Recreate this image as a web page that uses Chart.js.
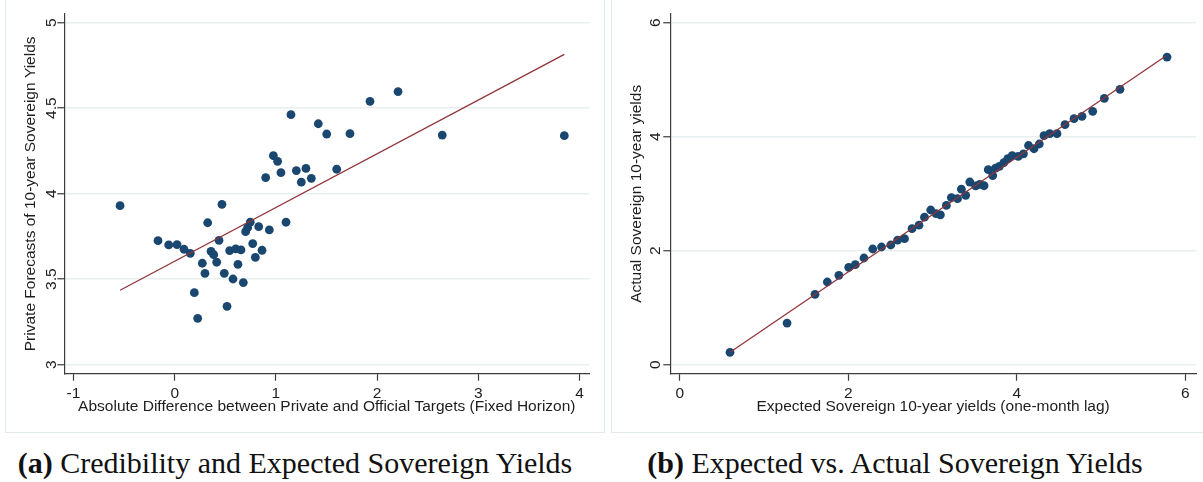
<!DOCTYPE html>
<html>
<head>
<meta charset="utf-8">
<script src="https://cdn.jsdelivr.net/npm/chart.js@4.4.0/dist/chart.umd.min.js"></script>
<style>
  html, body { margin: 0; padding: 0; background: #fff; }
  body { width: 1203px; height: 482px; position: relative; overflow: hidden; }
  .panel { position: absolute; top: -6px; height: 439px; border: 1px solid #e3eaec; box-sizing: border-box; background: #fff; }
  #panelA { left: 5px; width: 600px; }
  #panelB { left: 611px; width: 600px; }
  canvas { position: absolute; top: 0; }
  #chartA { left: 0; }
  #chartB { left: 606px; }
  .caption { position: absolute; top: 447px; font-family: "Liberation Serif", "Times New Roman", serif;
             font-size: 30px; line-height: 32px; color: #111; white-space: nowrap; transform: translateX(-50%); }
  .caption b { font-weight: bold; }
</style>
</head>
<body>
<div class="panel" id="panelA"></div>
<div class="panel" id="panelB"></div>
<canvas id="chartA" width="600" height="432"></canvas>
<canvas id="chartB" width="597" height="432"></canvas>
<div class="caption" style="left:295px"><b>(a)</b> Credibility and Expected Sovereign Yields</div>
<div class="caption" style="left:895px"><b>(b)</b> Expected vs. Actual Sovereign Yields</div>

<script>
// Panel (a): credibility gap vs. private 10-year yield forecasts
const credGap = [-0.54, -0.165, -0.059, 0.023, 0.092, 0.154, 0.194, 0.227, 0.273, 0.299,
                 0.326, 0.359, 0.385, 0.415, 0.438, 0.467, 0.490, 0.517, 0.543, 0.576,
                 0.603, 0.625, 0.655, 0.678, 0.701, 0.721, 0.747, 0.771, 0.797, 0.830,
                 0.863, 0.899, 0.935, 0.975, 1.017, 1.050, 1.100, 1.149, 1.202, 1.251,
                 1.297, 1.350, 1.419, 1.502, 1.601, 1.732, 1.930, 2.207, 2.644, 3.850];
const privForecast = [3.930, 3.725, 3.700, 3.702, 3.675, 3.651, 3.421, 3.271, 3.593, 3.534,
                      3.830, 3.663, 3.643, 3.599, 3.727, 3.938, 3.534, 3.341, 3.667, 3.501,
                      3.677, 3.587, 3.671, 3.480, 3.778, 3.801, 3.834, 3.708, 3.628, 3.807,
                      3.669, 4.094, 3.788, 4.222, 4.189, 4.123, 3.833, 4.462, 4.135, 4.067,
                      4.148, 4.090, 4.409, 4.349, 4.143, 4.351, 4.540, 4.597, 4.343, 4.339];
const fitAX = [-0.54, 3.85];
const fitAY = [3.435, 4.815];
const ticksAX = [-1, 0, 1, 2, 3, 4];
const ticksAY = [3, 3.5, 4, 4.5, 5];

// Panel (b): expected (one-month lag) vs. actual 10-year yields
const expectedYield = [0.597, 1.274, 1.606, 1.752, 1.889, 2.006, 2.084, 2.187, 2.291, 2.395,
                       2.505, 2.586, 2.668, 2.757, 2.840, 2.905, 2.979, 3.041, 3.094, 3.165,
                       3.224, 3.297, 3.343, 3.394, 3.443, 3.512, 3.561, 3.612, 3.662, 3.715,
                       3.748, 3.795, 3.847, 3.894, 3.946, 4.018, 4.080, 4.140, 4.205, 4.268,
                       4.324, 4.392, 4.478, 4.573, 4.680, 4.775, 4.902, 5.040, 5.226, 5.784];
const actualYield = [0.217, 0.731, 1.234, 1.451, 1.568, 1.708, 1.754, 1.872, 2.030, 2.065,
                     2.100, 2.185, 2.211, 2.386, 2.448, 2.588, 2.714, 2.652, 2.629, 2.795,
                     2.933, 2.913, 3.080, 2.972, 3.205, 3.137, 3.165, 3.140, 3.422, 3.319,
                     3.448, 3.480, 3.547, 3.615, 3.667, 3.655, 3.700, 3.846, 3.789, 3.872,
                     4.018, 4.053, 4.053, 4.211, 4.316, 4.357, 4.445, 4.674, 4.831, 5.398];
const fitBX = [0.597, 5.77];
const fitBY = [0.217, 5.416];
const ticksBX = [0, 2, 4, 6];
const ticksBY = [0, 2, 4, 6];

const NAVY = '#1a476f';
const MAROON = '#90353b';
const AXIS = '#3c3c3c';
const GRID = '#e8eff0';
const TXT = '#1e1e1e';
const SANS = '"Liberation Sans", Arial, sans-serif';
const FONT_SIZE = 15.5;

function pairs(xs, ys) { return xs.map((x, i) => ({ x: x, y: ys[i] })); }

function scatterChart(id, cfg) {
  const fixTicks = list => scale => { scale.ticks = list.map(v => ({ value: v })); };
  return new Chart(document.getElementById(id), {
    type: 'scatter',
    data: {
      datasets: [
        { type: 'line', data: pairs(cfg.fitX, cfg.fitY), borderColor: MAROON, borderWidth: 1.3,
          pointRadius: 0, fill: false, tension: 0, order: 0 },
        { data: pairs(cfg.xs, cfg.ys), backgroundColor: NAVY, borderWidth: 0,
          pointRadius: 4.4, pointHoverRadius: 4.4, order: 1 }
      ]
    },
    options: {
      responsive: false,
      animation: false,
      events: [],
      layout: { padding: { top: 14, right: cfg.padRight, left: 0, bottom: 0 } },
      plugins: { legend: { display: false }, tooltip: { enabled: false } },
      scales: {
        x: {
          type: 'linear', min: cfg.xMin, max: cfg.xMax,
          afterBuildTicks: fixTicks(cfg.xTicks),
          afterFit: s => { s.height = 58.3; },
          grid: { drawOnChartArea: false, drawTicks: true, tickLength: 7, tickColor: AXIS, tickWidth: 1.2 },
          border: { display: true, color: AXIS, width: 1.2 },
          ticks: { font: { family: SANS, size: FONT_SIZE }, color: TXT, padding: 3.5, maxRotation: 0,
                   autoSkip: false, callback: v => String(v) },
          title: { display: true, text: cfg.xTitle, font: { family: SANS, size: FONT_SIZE }, color: TXT,
                   padding: { top: 0, bottom: 15.7 } }
        },
        y: {
          type: 'linear', min: cfg.yMin, max: cfg.yMax,
          afterBuildTicks: fixTicks(cfg.yTicks),
          afterFit: s => { s.width = 64.3; },
          grid: { color: GRID, lineWidth: 1.5, drawTicks: true, tickLength: 7, tickColor: AXIS, tickWidth: 1.2 },
          border: { display: true, color: AXIS, width: 1.2 },
          ticks: { font: { family: SANS, size: FONT_SIZE }, color: TXT, padding: cfg.yTickPad,
                   minRotation: 90, maxRotation: 90, crossAlign: 'center',
                   autoSkip: false, callback: v => String(v) },
          title: { display: true, text: cfg.yTitle, font: { family: SANS, size: FONT_SIZE }, color: TXT,
                   padding: { top: cfg.yTitlePad, bottom: 0 } }
        }
      }
    }
  });
}

scatterChart('chartA', {
  xs: credGap, ys: privForecast, fitX: fitAX, fitY: fitAY,
  xTicks: ticksAX, yTicks: ticksAY,
  xMin: -1.091, xMax: 4.097, yMin: 2.947, yMax: 5.051,
  padRight: 10.7, yTickPad: -5.5, yTitlePad: 21.7,
  xTitle: 'Absolute Difference between Private and Official Targets (Fixed Horizon)',
  yTitle: 'Private Forecasts of 10-year Sovereign Yields'
});

scatterChart('chartB', {
  xs: expectedYield, ys: actualYield, fitX: fitBX, fitY: fitBY,
  xTicks: ticksBX, yTicks: ticksBY,
  xMin: -0.112, xMax: 6.128, yMin: -0.158, yMax: 6.153,
  padRight: 7, yTickPad: 3.5, yTitlePad: 21.2,
  xTitle: 'Expected Sovereign 10-year yields (one-month lag)',
  yTitle: 'Actual Sovereign 10-year yields'
});
</script>
</body>
</html>
